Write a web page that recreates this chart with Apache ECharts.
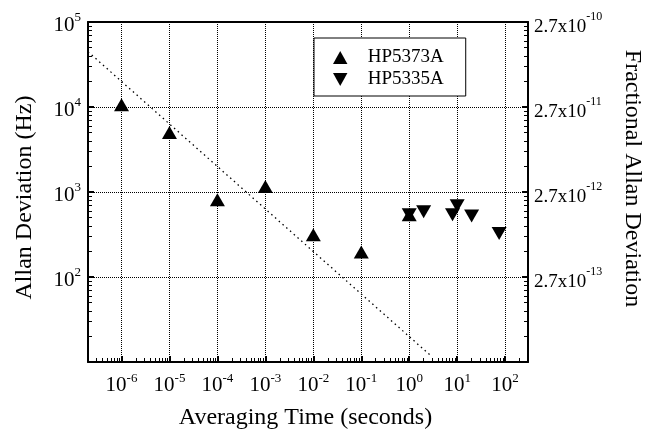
<!DOCTYPE html>
<html>
<head>
<meta charset="utf-8">
<script src="https://cdn.jsdelivr.net/npm/echarts@6/dist/echarts.min.js"></script>
<style>
  html, body { margin: 0; padding: 0; background: #fff; }
  #chart { width: 654px; height: 429px; }
</style>
</head>
<body>
<div id="chart"></div>
<script>
// averaging time (s) / Allan deviation (Hz)
const tau5373 = [1e-6, 1e-5, 1e-4, 1e-3, 1e-2, 1e-1, 1]
const adev5373 = [10600, 5000, 810, 1160, 315, 197, 540]
const tau5335 = [1, 2, 8, 10, 20, 75]
const adev5335 = [540, 586, 540, 690, 523, 325]
// dotted tau^-1/2 guide line, just its two end points
const guideTau = [2e-7, 3]
const guideAdev = [44700, 11.5]

// axis ranges and tick exponents
const xRange = [2e-7, 300]
const yRange = [10, 1e5]
const xTickExp = [-6, -5, -4, -3, -2, -1, 0, 1, 2]
const yTickExp = [2, 3, 4, 5]
// right axis: 10^5 Hz <-> 2.7x10^-10
const fracTickExp = [-13, -12, -11, -10]
const fracMantissa = '2.7'
const minorSteps = [2, 3, 4, 5, 6, 7, 8, 9]

const FONT = 'Liberation Serif'
const UP = 'path://M5,0L10,9L0,9Z'
const DOWN = 'path://M0,0L10,0L5,9Z'

const pow10 = e => Math.pow(10, e)
const majors = exps => exps.map(pow10)
// 2..9 x 10^n inside a range
const minors = range => {
  const out = []
  const lo = Math.floor(Math.log10(range[0]))
  const hi = Math.ceil(Math.log10(range[1]))
  for (let e = lo; e < hi; e++) {
    minorSteps.forEach(k => {
      const v = k * pow10(e)
      if (v > range[0] && v < range[1]) out.push(v)
    })
  }
  return out
}
const exp10 = v => Math.round(Math.log10(v))

const rich = {
  b: { fontFamily: FONT, fontSize: 21, color: '#000', padding: [6, 0, 0, 0] },
  s: { fontFamily: FONT, fontSize: 13, color: '#000', padding: [0, 0, 8, 0] }
}
const richRight = {
  b: { fontFamily: FONT, fontSize: 19, color: '#000', padding: [10, 0, 0, 0] },
  s: { fontFamily: FONT, fontSize: 12, color: '#000', padding: [0, 0, 11, 0] }
}

const frameLine = () => ({ show: true, lineStyle: { color: '#000', width: 2 } })
const gridLine = () => ({ show: true, lineStyle: { color: '#000', width: 1, type: 'dotted' } })

// axis that only draws the small inside ticks
const minorAxis = (position, range, values) => ({
  type: 'log',
  position,
  min: range[0],
  max: range[1],
  axisLine: { show: false },
  axisTick: { show: true, inside: true, length: 4, customValues: values, lineStyle: { color: '#000', width: 1 } },
  axisLabel: { show: false },
  splitLine: { show: false }
})

const chart = echarts.init(document.getElementById('chart'))

chart.setOption({
  animation: false,
  backgroundColor: '#fff',
  grid: { left: 88, top: 22, right: 126, bottom: 67 },
  legend: {
    left: 314,
    top: 38,
    orient: 'vertical',
    backgroundColor: '#fff',
    borderColor: '#000',
    borderWidth: 1,
    padding: [10, 22, 7, 19],
    itemGap: 3,
    itemWidth: 15,
    itemHeight: 13,
    textStyle: { fontFamily: FONT, fontSize: 19, color: '#000', padding: [0, 0, 0, 15] },
    data: [
      { name: 'HP5373A', icon: UP },
      { name: 'HP5335A', icon: DOWN }
    ]
  },
  xAxis: [
    {
      type: 'log',
      position: 'bottom',
      min: xRange[0],
      max: xRange[1],
      axisLine: frameLine(),
      axisTick: { show: true, inside: true, length: 6, customValues: majors(xTickExp), lineStyle: { color: '#000', width: 2 } },
      axisLabel: {
        customValues: majors(xTickExp),
        margin: 7,
        formatter: v => '{b|10}{s|' + exp10(v) + '}',
        rich
      },
      splitLine: gridLine()
    },
    minorAxis('bottom', xRange, minors(xRange)),
    {
      type: 'log',
      position: 'top',
      min: xRange[0],
      max: xRange[1],
      axisLine: frameLine(),
      axisTick: { show: false },
      axisLabel: { show: false },
      splitLine: gridLine()
    }
  ],
  yAxis: [
    {
      type: 'log',
      position: 'left',
      min: yRange[0],
      max: yRange[1],
      axisLine: frameLine(),
      axisTick: { show: true, inside: true, length: 6, customValues: majors(yTickExp), lineStyle: { color: '#000', width: 2 } },
      axisLabel: {
        customValues: majors(yTickExp),
        margin: 7,
        formatter: v => '{b|10}{s|' + exp10(v) + '}',
        rich
      },
      splitLine: gridLine()
    },
    minorAxis('left', yRange, minors(yRange)),
    {
      type: 'log',
      position: 'right',
      min: yRange[0],
      max: yRange[1],
      axisLine: frameLine(),
      axisTick: { show: true, inside: true, length: 6, customValues: majors(yTickExp), lineStyle: { color: '#000', width: 2 } },
      axisLabel: {
        customValues: majors(yTickExp),
        margin: 6,
        formatter: v => {
          const i = yTickExp.indexOf(exp10(v))
          return '{b|' + fracMantissa + 'x10}{s|' + fracTickExp[i] + '}'
        },
        rich: richRight
      },
      splitLine: gridLine()
    },
    minorAxis('right', yRange, minors(yRange))
  ],
  graphic: [
    {
      type: 'text', x: 305.5, y: 418,
      style: { text: 'Averaging Time (seconds)', fontFamily: FONT, fontSize: 24, fill: '#000', align: 'center', verticalAlign: 'middle' }
    },
    {
      type: 'text', x: 25, y: 197.5, rotation: Math.PI / 2,
      style: { text: 'Allan Deviation (Hz)', fontFamily: FONT, fontSize: 24, fill: '#000', align: 'center', verticalAlign: 'middle' }
    },
    {
      type: 'text', x: 632, y: 178.5, rotation: -Math.PI / 2,
      style: { text: 'Fractional Allan Deviation', fontFamily: FONT, fontSize: 24, fill: '#000', align: 'center', verticalAlign: 'middle' }
    }
  ],
  series: [
    {
      name: 'guide',
      type: 'line',
      data: guideTau.map((t, i) => [t, guideAdev[i]]),
      showSymbol: false,
      silent: true,
      lineStyle: { color: '#000', width: 1.3, type: [1.5, 3.5] },
      z: 1
    },
    {
      name: 'HP5373A',
      type: 'scatter',
      data: tau5373.map((t, i) => [t, adev5373[i]]),
      symbol: UP,
      symbolSize: [15, 13],
      itemStyle: { color: '#000', opacity: 1 },
      z: 3
    },
    {
      name: 'HP5335A',
      type: 'scatter',
      data: tau5335.map((t, i) => [t, adev5335[i]]),
      symbol: DOWN,
      symbolSize: [15, 13],
      itemStyle: { color: '#000', opacity: 1 },
      z: 3
    }
  ]
})
</script>
</body>
</html>
